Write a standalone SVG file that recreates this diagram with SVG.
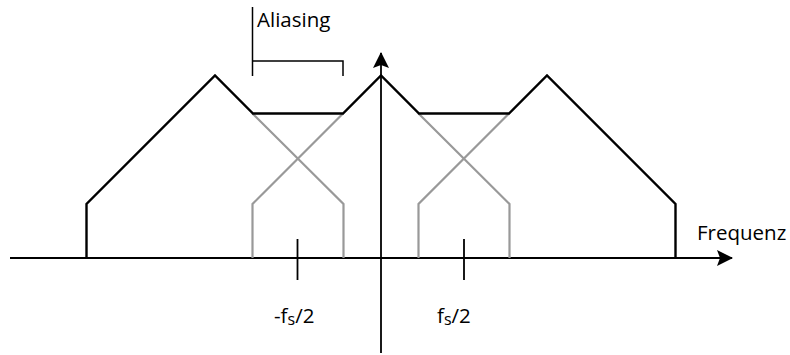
<svg xmlns="http://www.w3.org/2000/svg" width="790" height="355" viewBox="0 0 790 355">
<style>
.ax{stroke:#000;stroke-width:1.8;fill:none}
.blk{stroke:#000;stroke-width:2.4;fill:none;stroke-linejoin:miter}
.gry{stroke:#999;stroke-width:2.2;fill:none}
.brk{stroke:#000;stroke-width:1.5;fill:none}
.t{font-family:"Open Sans","Liberation Sans",sans-serif;font-size:20.5px;fill:#000}
.sub{font-size:16px}
</style>
<defs>
<marker id="arr" viewBox="0 0 16 16" refX="15" refY="8" markerWidth="16" markerHeight="16" markerUnits="userSpaceOnUse" orient="auto">
<path d="M0,0 L16,8 L0,16 L3,8 Z" fill="#000"/>
</marker>
</defs>
<rect width="790" height="355" fill="#fff"/>
<g id="connectors">
<line class="ax" x1="10" y1="258" x2="732" y2="258" marker-end="url(#arr)"/>
<line class="ax" x1="381" y1="353" x2="381" y2="53" marker-end="url(#arr)"/>
<line class="ax" x1="297.5" y1="239" x2="297.5" y2="280"/>
<line class="ax" x1="464" y1="239" x2="464" y2="280"/>
</g>
<g id="aliased-gray">
<path class="gry" d="M252.5,258 V204 L343,113.5 M252.5,113.5 L343.5,204 V258"/>
<path class="gry" d="M418.5,258 V204 L509,113.5 M418.5,113.5 L509.5,204 V258"/>
</g>
<g id="spectrum">
<path class="blk" d="M86.5,258 V204 L215,75.5 L253,113.5 H343 L381,75.5 L419,113.5 H509 L547,75.5 L675.5,204 V258"/>
</g>
<g id="aliasing-bracket">
<path class="brk" d="M252.5,7 V76 M252.5,61 H343 V76"/>
<text class="t" x="257" y="27">Aliasing</text>
</g>
<g id="labels">
<text class="t" x="697" y="240">Frequenz</text>
<text class="t" x="274" y="323">-f<tspan class="sub" dy="2">s</tspan><tspan dy="-2">/2</tspan></text>
<text class="t" x="437" y="323">f<tspan class="sub" dy="2">s</tspan><tspan dy="-2">/2</tspan></text>
</g>
</svg>
